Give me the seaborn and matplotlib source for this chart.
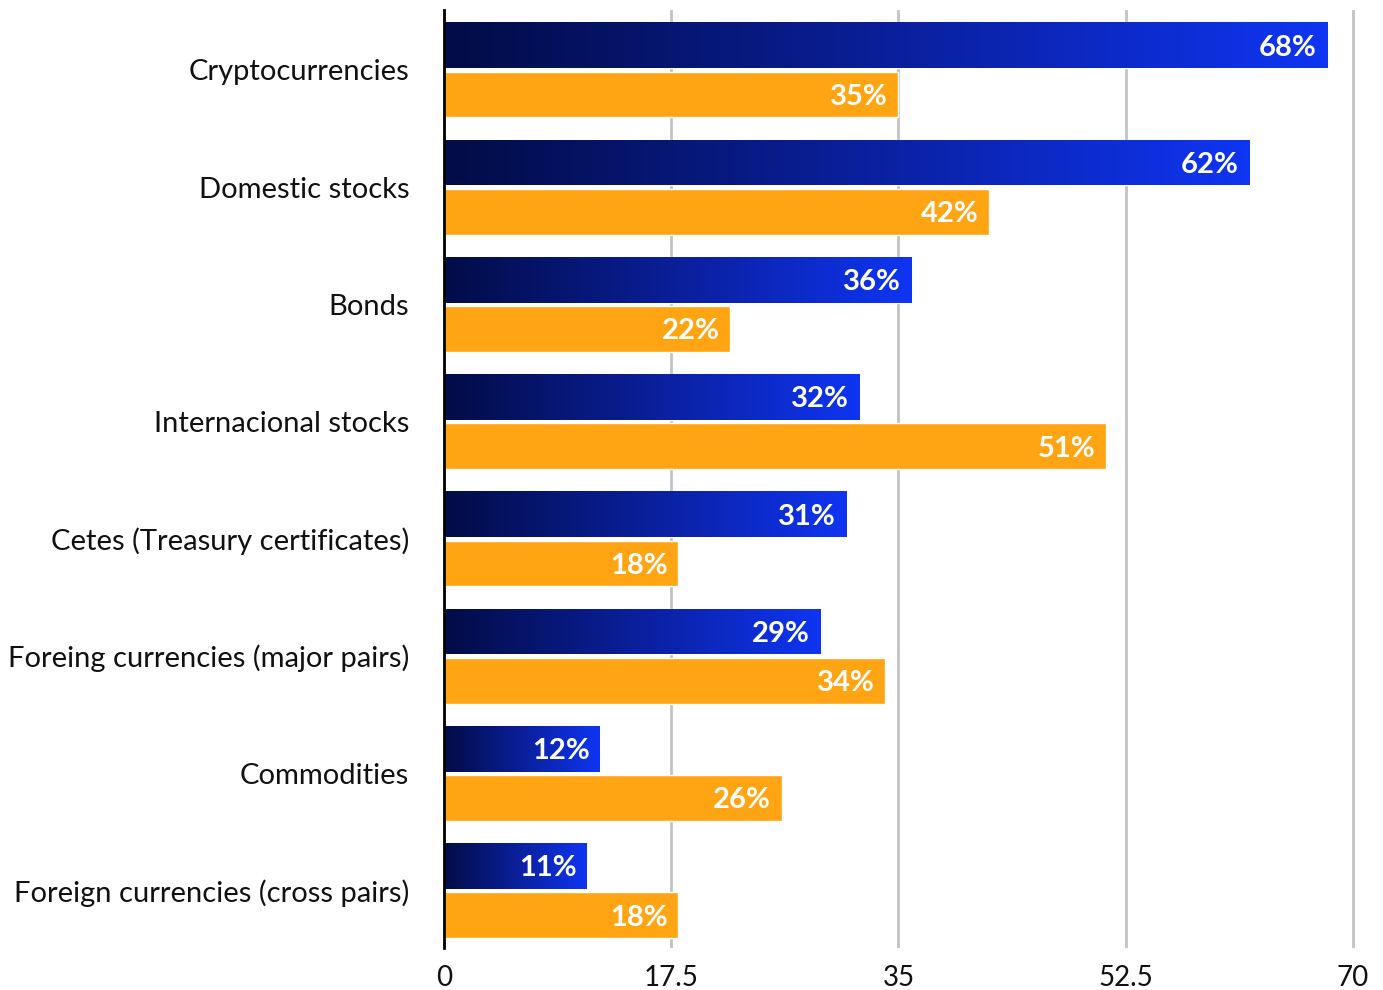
import numpy as np
import pandas as pd
import matplotlib
matplotlib.use("Agg")
import matplotlib.pyplot as plt
import seaborn as sns
from matplotlib.colors import LinearSegmentedColormap

# Survey shares per instrument (percent)
categories = [
    "Cryptocurrencies",
    "Domestic stocks",
    "Bonds",
    "Internacional stocks",
    "Cetes (Treasury certificates)",
    "Foreing currencies (major pairs)",
    "Commodities",
    "Foreign currencies (cross pairs)",
]
primary_values = [68, 62, 36, 32, 31, 29, 12, 11]
secondary_values = [35, 42, 22, 51, 18, 34, 26, 18]
x_ticks = [0, 17.5, 35, 52.5, 70]
x_tick_labels = ["0", "17.5", "35", "52.5", "70"]

sns.set_theme(style="white")
plt.rcParams["font.family"] = ["Lato", "DejaVu Sans"]

df = pd.DataFrame({
    "category": categories * 2,
    "series": ["primary"] * len(categories) + ["secondary"] * len(categories),
    "value": primary_values + secondary_values,
})

fig = plt.figure(figsize=(13.83, 9.9), dpi=100)
ax = fig.add_axes([0.321, 0.0424, 0.6592, 0.9475])

sns.barplot(
    data=df, y="category", x="value", hue="series", orient="h",
    palette={"primary": "#0a2ad0", "secondary": "#FFA412"},
    width=0.84, gap=0.07, saturation=1, legend=False, ax=ax,
)

# Horizontal navy-to-blue gradient on the primary bars
grad_cmap = LinearSegmentedColormap.from_list("navy_blue", ["#020c46", "#0a1f9a", "#0f35f2"])
gradient = np.linspace(0, 1, 256).reshape(1, -1)
for patch in ax.containers[0]:
    x0, y0 = patch.get_x(), patch.get_y()
    w, h = patch.get_width(), patch.get_height()
    img = ax.imshow(gradient, cmap=grad_cmap, aspect="auto",
                    extent=(x0, x0 + w, y0 + h, y0), zorder=patch.get_zorder() + 0.1,
                    interpolation="bicubic")
    img.set_clip_path(patch)

# Value labels inside the bar ends
for container in ax.containers:
    for patch in container:
        w = patch.get_width()
        yc = patch.get_y() + patch.get_height() / 2
        ax.text(w - 0.8, yc, f"{w:g}%", ha="right", va="center_baseline",
                color="white", fontsize=21, fontweight="bold", zorder=5)

ax.set_xlim(0, 70.2)
ax.set_ylim(7.49, -0.51)
ax.set_xticks(x_ticks)
ax.set_xticklabels(x_tick_labels)
ax.set_xlabel("")
ax.set_ylabel("")
ax.grid(axis="x", color="#c2c2c2", linewidth=2)
ax.grid(axis="y", visible=False)
ax.set_axisbelow(True)
for side in ["top", "right", "bottom"]:
    ax.spines[side].set_visible(False)
ax.spines["left"].set_color("black")
ax.spines["left"].set_linewidth(2)
ax.tick_params(axis="x", length=0, pad=12, labelsize=20, colors="#111111")
ax.tick_params(axis="y", length=0, pad=25, labelsize=21, colors="#111111")

fig.savefig("out.png", dpi=100, facecolor="white")
